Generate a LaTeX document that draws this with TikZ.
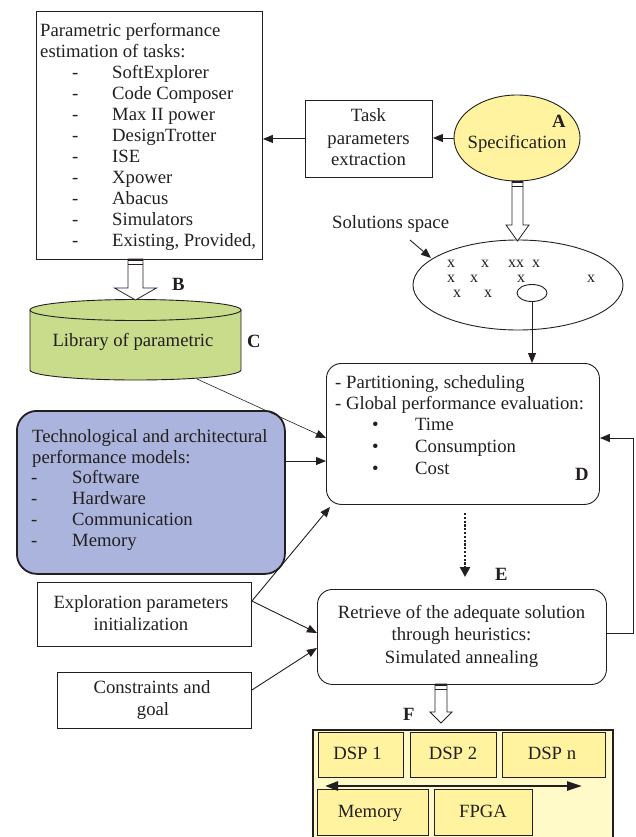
\documentclass[tikz,border=0pt]{standalone}
\usepackage{fontspec}
\setmainfont{Liberation Serif}
\usetikzlibrary{arrows.meta,shapes.geometric,calc}

\definecolor{specyellow}{HTML}{FFF3A0}
\definecolor{libgreen}{HTML}{C8DC8C}
\definecolor{techblue}{HTML}{AAB4DC}
\definecolor{boardyellow}{HTML}{FFFAC8}
\definecolor{chipyellow}{HTML}{FFF3A0}
\definecolor{ink}{HTML}{231F20}

% hollow block arrow pointing down: top centre, tip y, shaft half width, head half width, head length
\newcommand{\hollowdown}[6]{%
  \draw[ink, line width=0.8pt, fill=white]
    (#1-#4,#2) -- (#1-#4,#3-#6) -- (#1-#5,#3-#6) -- (#1,#3) -- (#1+#5,#3-#6)
    -- (#1+#4,#3-#6) -- (#1+#4,#2) -- cycle;
  \fill[ink] (#1-#4,#2) rectangle (#1+#4,#2+2.2);
  \draw[ink, line width=0.9pt] (#1-#4,#2+5.2) -- (#1+#4,#2+5.2);
}

\begin{document}
\begin{tikzpicture}[x=1pt,y=-1pt,
  txt/.style={font=\fontsize{18.7}{20.9}\selectfont, inner sep=0pt, text=ink},
  lbl/.style={font=\fontsize{18.7}{20.9}\selectfont\bfseries, inner sep=0pt, text=ink, anchor=base west},
  xmark/.style={font=\fontsize{16}{18}\selectfont, inner sep=0pt, text=ink, anchor=base},
  plainbox/.style={draw=ink, line width=0.9pt, rectangle, inner sep=0pt, anchor=north west},
  roundbox/.style={plainbox, rounded corners=15pt},
  chip/.style={plainbox, fill=chipyellow, line width=1.3pt},
  arr/.style={draw=ink, line width=0.9pt, -{Triangle[length=10pt,width=8pt]}},
]
\useasboundingbox (0,0) rectangle (636,837);

% ---------- parametric estimation box ----------
\node[plainbox, minimum width=226pt, minimum height=248pt] (est) at (36,11) {};
\node[txt, anchor=base west] (est-h1) at (40,37) {Parametric performance};
\node[txt, anchor=base west] (est-h2) at (40,58) {estimation of tasks:};
\foreach \t [count=\i] in {SoftExplorer, Code Composer, Max II power, DesignTrotter,
    ISE, Xpower, Abacus, Simulators, {Existing, Provided,}} {
  \node[txt, anchor=base west] (est-d\i) at (72,58+20.9*\i) {-};
  \node[txt, anchor=base west] (est-t\i) at (112,58+20.9*\i) {\t};
}

% ---------- task parameters extraction ----------
\node[plainbox, minimum width=127pt, minimum height=77pt] (task) at (305,100) {};
\node[txt, anchor=base] (task-1) at (368.5,122) {Task};
\node[txt, anchor=base] (task-2) at (368.5,145) {parameters};
\node[txt, anchor=base] (task-3) at (368.5,166) {extraction};

% ---------- specification ----------
\node[ellipse, draw=ink, line width=0.9pt, fill=specyellow, minimum width=126pt,
      minimum height=86pt, inner sep=0pt] (spec) at (517,138) {};
\node[txt, anchor=base] (spec-t) at (517,149) {Specification};
\node[lbl] (labA) at (552,128) {A};

\draw[arr] (spec.west) -- (task.east |- spec.west);
\draw[arr] (task.west) -- (est.east |- task.west);

% ---------- solutions space ----------
\node[ellipse, draw=ink, line width=0.9pt, minimum width=210pt, minimum height=90pt,
      inner sep=0pt] (sol) at (518,285) {};
\node[txt, anchor=base west] (sol-t) at (332,228) {Solutions space};
\coordinate (sol-ptr) at (410,240);
\draw[arr] (sol-ptr) -- (431,258);
\foreach \px/\py [count=\i] in {451/267, 485/267, 516/267, 536/267,
    451/282, 474/282, 521/282, 591/282, 457/297, 488/297} {
  \node[xmark] (sx\i) at (\px,\py) {\ifnum\i=3 xx\else x\fi};
}
\node[ellipse, draw=ink, line width=0.9pt, minimum width=30pt, minimum height=17pt,
      inner sep=0pt] (best) at (532,293) {};

\hollowdown{517.5}{181}{241}{5.5}{11.5}{16}

% ---------- library cylinder ----------
\fill[libgreen] (30,310) -- (30,370) arc[start angle=180, end angle=360, x radius=105.5pt, y radius=10pt]
  -- (241,310) -- cycle;
\fill[libgreen] (135.5,310) ellipse[x radius=105.5pt, y radius=10.5pt];
\draw[ink, line width=0.9pt] (30,310) -- (30,370) arc[start angle=180, end angle=360, x radius=105.5pt, y radius=10pt]
  -- (241,310);
\draw[ink, line width=0.9pt] (135.5,310) ellipse[x radius=105.5pt, y radius=10.5pt];
\node[txt, anchor=base] (lib) at (133,346) {Library of parametric};
\coordinate (lib-bottom) at (197,379);
\node[lbl] (labC) at (247,347) {C};
\node[lbl] (labB) at (172,290) {B};

\hollowdown{135.5}{259}{300}{7.5}{21}{12}

% ---------- partitioning / evaluation ----------
\node[roundbox, minimum width=273pt, minimum height=141pt] (part) at (326,363) {};
\node[txt, anchor=base west] (part-1) at (335,388) {- Partitioning, scheduling};
\node[txt, anchor=base west] (part-2) at (335,409) {- Global performance evaluation:};
\foreach \t [count=\i] in {Time, Consumption, Cost} {
  \node[txt, anchor=base west] (part-b\i) at (372,409+21.8*\i) {\textbullet};
  \node[txt, anchor=base west] (part-t\i) at (415,409+21.8*\i) {\t};
}
\node[lbl] (labD) at (575,480) {D};

\draw[arr] (best.south) -- (part.north -| best.south);

% ---------- technological models ----------
\node[roundbox, rounded corners=20pt, fill=techblue, line width=1.8pt,
      minimum width=268pt, minimum height=163pt] (tech) at (16,410) {};
\node[txt, anchor=base west] (tech-1) at (32,442) {Technological and architectural};
\node[txt, anchor=base west] (tech-2) at (32,463) {performance models:};
\foreach \t [count=\i] in {Software, Hardware, Communication, Memory} {
  \node[txt, anchor=base west] (tech-d\i) at (31,463+20.9*\i) {-};
  \node[txt, anchor=base west] (tech-t\i) at (72,463+20.9*\i) {\t};
}

\draw[ink, line width=0.6pt, -{Triangle[length=10pt,width=8pt]}] (lib-bottom) -- (326,438);
\draw[arr] (tech.east |- 0,461) -- (part.west |- 0,461);

% ---------- exploration / constraints ----------
\node[plainbox, minimum width=214pt, minimum height=64pt] (expl) at (37,582) {};
\node[txt, anchor=base] (expl-1) at (141,608) {Exploration parameters};
\node[txt, anchor=base] (expl-2) at (141,630) {initialization};

\node[plainbox, minimum width=194pt, minimum height=56pt] (cons) at (57,672) {};
\node[txt, anchor=base] (cons-1) at (152,693) {Constraints and};
\node[txt, anchor=base] (cons-2) at (153,715) {goal};

% ---------- retrieve solution ----------
\node[roundbox, minimum width=289pt, minimum height=95pt] (retr) at (317,589) {};
\node[txt, anchor=base] (retr-1) at (461.5,618) {Retrieve of the adequate solution};
\node[txt, anchor=base] (retr-2) at (461.5,640) {through heuristics:};
\node[txt, anchor=base] (retr-3) at (461.5,663) {Simulated annealing};
\node[lbl] (labE) at (495,580) {E};

\draw[arr] (expl.east |- 0,601) -- (330,507);
\draw[arr] (expl.east |- 0,601) -- (retr.west |- 0,633);
\draw[arr] (cons.east |- 0,690) -- (retr.west |- 0,648);

\draw[ink, line width=2.6pt, dash pattern=on 2.2pt off 1.6pt, -{Triangle[length=10pt,width=10pt]}] (465,513) -- (465,577);

\draw[ink, line width=0.9pt, -{Triangle[length=10pt,width=8pt]}]
  (retr.east |- 0,633) -- (633,633) -- (633,438) -- (part.east |- 0,438);

% ---------- target architecture ----------
\hollowdown{441}{684}{723}{6}{11}{11}
\node[lbl] (labF) at (403,720) {F};

\node[plainbox, fill=boardyellow, line width=1.8pt, minimum width=300pt,
      minimum height=120pt] (board) at (312,729) {};
\node[chip, minimum width=85pt, minimum height=45pt] (dsp1) at (318,732) {};
\node[chip, minimum width=86pt, minimum height=45pt] (dsp2) at (410,732) {};
\node[chip, minimum width=103pt, minimum height=45pt] (dspn) at (502,732) {};
\node[chip, minimum width=111pt, minimum height=46pt] (mem) at (317,789) {};
\node[chip, minimum width=98pt, minimum height=46pt] (fpga) at (434,789) {};
\node[txt, anchor=base] (dsp1-t) at (357.5,759) {DSP 1};
\node[txt, anchor=base] (dsp2-t) at (453,759) {DSP 2};
\node[txt, anchor=base] (dspn-t) at (552,759) {DSP n};
\node[txt, anchor=base] (mem-t) at (370,817) {Memory};
\node[txt, anchor=base] (fpga-t) at (483,817) {FPGA};
\coordinate (bus-l) at (325,786);
\coordinate (bus-r) at (582,786);
\draw[ink, line width=2.6pt, {Triangle[length=13pt,width=9pt]}-{Triangle[length=15pt,width=9pt]}] (bus-l) -- (bus-r);
\end{tikzpicture}
\end{document}
